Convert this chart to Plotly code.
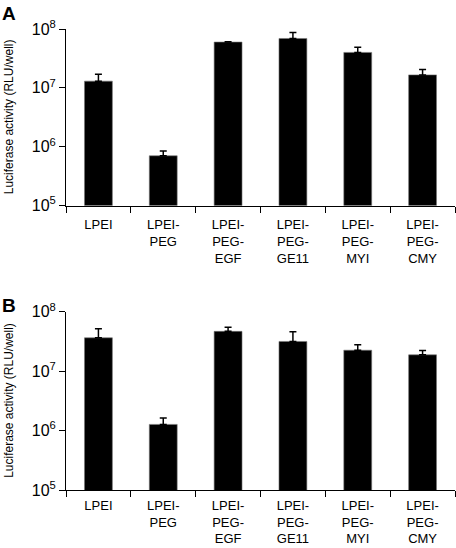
import plotly.graph_objects as go
from plotly.subplots import make_subplots

categories = ["LPEI", "LPEI-<br>PEG", "LPEI-<br>PEG-<br>EGF", "LPEI-<br>PEG-<br>GE11",
              "LPEI-<br>PEG-<br>MYI", "LPEI-<br>PEG-<br>CMY"]
panel_a_mean = [1.3e7, 7.0e5, 6.0e7, 6.9e7, 4.0e7, 1.66e7]
panel_a_upper = [1.7e7, 8.4e5, 6.1e7, 8.75e7, 4.9e7, 2.05e7]
panel_b_mean = [3.64e7, 1.27e6, 4.67e7, 3.16e7, 2.25e7, 1.88e7]
panel_b_upper = [5.16e7, 1.62e6, 5.5e7, 4.6e7, 2.77e7, 2.23e7]
ytick_vals = [1e5, 1e6, 1e7, 1e8]
ytick_text = ["10<sup>5</sup>", "10<sup>6</sup>", "10<sup>7</sup>", "10<sup>8</sup>"]
ytitle = "Luciferase activity (RLU/well)"
panel_labels = ["A", "B"]

FONT = "Liberation Sans, Arial, Helvetica, sans-serif"

fig = make_subplots(rows=2, cols=1, vertical_spacing=0.0)

for i, (mean, upper) in enumerate([(panel_a_mean, panel_a_upper), (panel_b_mean, panel_b_upper)]):
    err = [u - m for u, m in zip(upper, mean)]
    fig.add_trace(go.Bar(
        x=categories, y=mean,
        marker=dict(color="black", line=dict(width=0.6, color="#777")),
        width=0.43,
        error_y=dict(type="data", symmetric=False, array=err, arrayminus=[0] * len(err),
                     color="black", thickness=1.5, width=3.5),
        showlegend=False,
    ), row=i + 1, col=1)

W, H = 456, 548
ml, mr, mt, mb = 66, 1, 29, 58
ph = H - mt - mb
dom_a = [(H - mb - 205.5) / ph, 1.0]
dom_b = [0.0, (H - mb - 311.7) / ph]

axis_common = dict(showline=True, linecolor="black", linewidth=1, ticks="outside",
                   tickcolor="black", ticklen=6, tickwidth=1, showgrid=False, zeroline=False)

fig.update_layout(
    width=W, height=H,
    margin=dict(l=ml, r=mr, t=mt, b=mb),
    plot_bgcolor="white", paper_bgcolor="white",
    font=dict(family=FONT, color="black"),
    xaxis=dict(domain=[0, 1], anchor="y", tickson="boundaries", range=[-0.5, 5.5],
               tickfont=dict(size=13), ticklabelstandoff=7, **axis_common),
    xaxis2=dict(domain=[0, 1], anchor="y2", tickson="boundaries", range=[-0.5, 5.5],
                tickfont=dict(size=13), ticklabelstandoff=3, **axis_common),
    yaxis=dict(domain=dom_a, type="log", range=[5, 8], tickvals=ytick_vals, ticktext=ytick_text,
               tickfont=dict(size=16), anchor="x", **axis_common),
    yaxis2=dict(domain=dom_b, type="log", range=[5, 8], tickvals=ytick_vals, ticktext=ytick_text,
                tickfont=dict(size=16), anchor="x2", **axis_common),
)

pw = W - ml - mr
xtitle = (9 - ml) / pw
for dom, lab, ly in [(dom_a, panel_labels[0], 13.5), (dom_b, panel_labels[1], 305)]:
    fig.add_annotation(text=ytitle, textangle=-90, xref="paper", yref="paper",
                       x=xtitle, y=(dom[0] + dom[1]) / 2, xanchor="center", yanchor="middle",
                       showarrow=False, font=dict(size=12, family=FONT))
    fig.add_annotation(text="<b>" + lab + "</b>", xref="paper", yref="paper",
                       x=xtitle, y=(H - mb - ly) / ph, xanchor="center", yanchor="middle",
                       showarrow=False, font=dict(size=19, family=FONT))

fig.write_html("out.html", config={"displayModeBar": False},
               post_script="document.body.style.margin='0px';")
